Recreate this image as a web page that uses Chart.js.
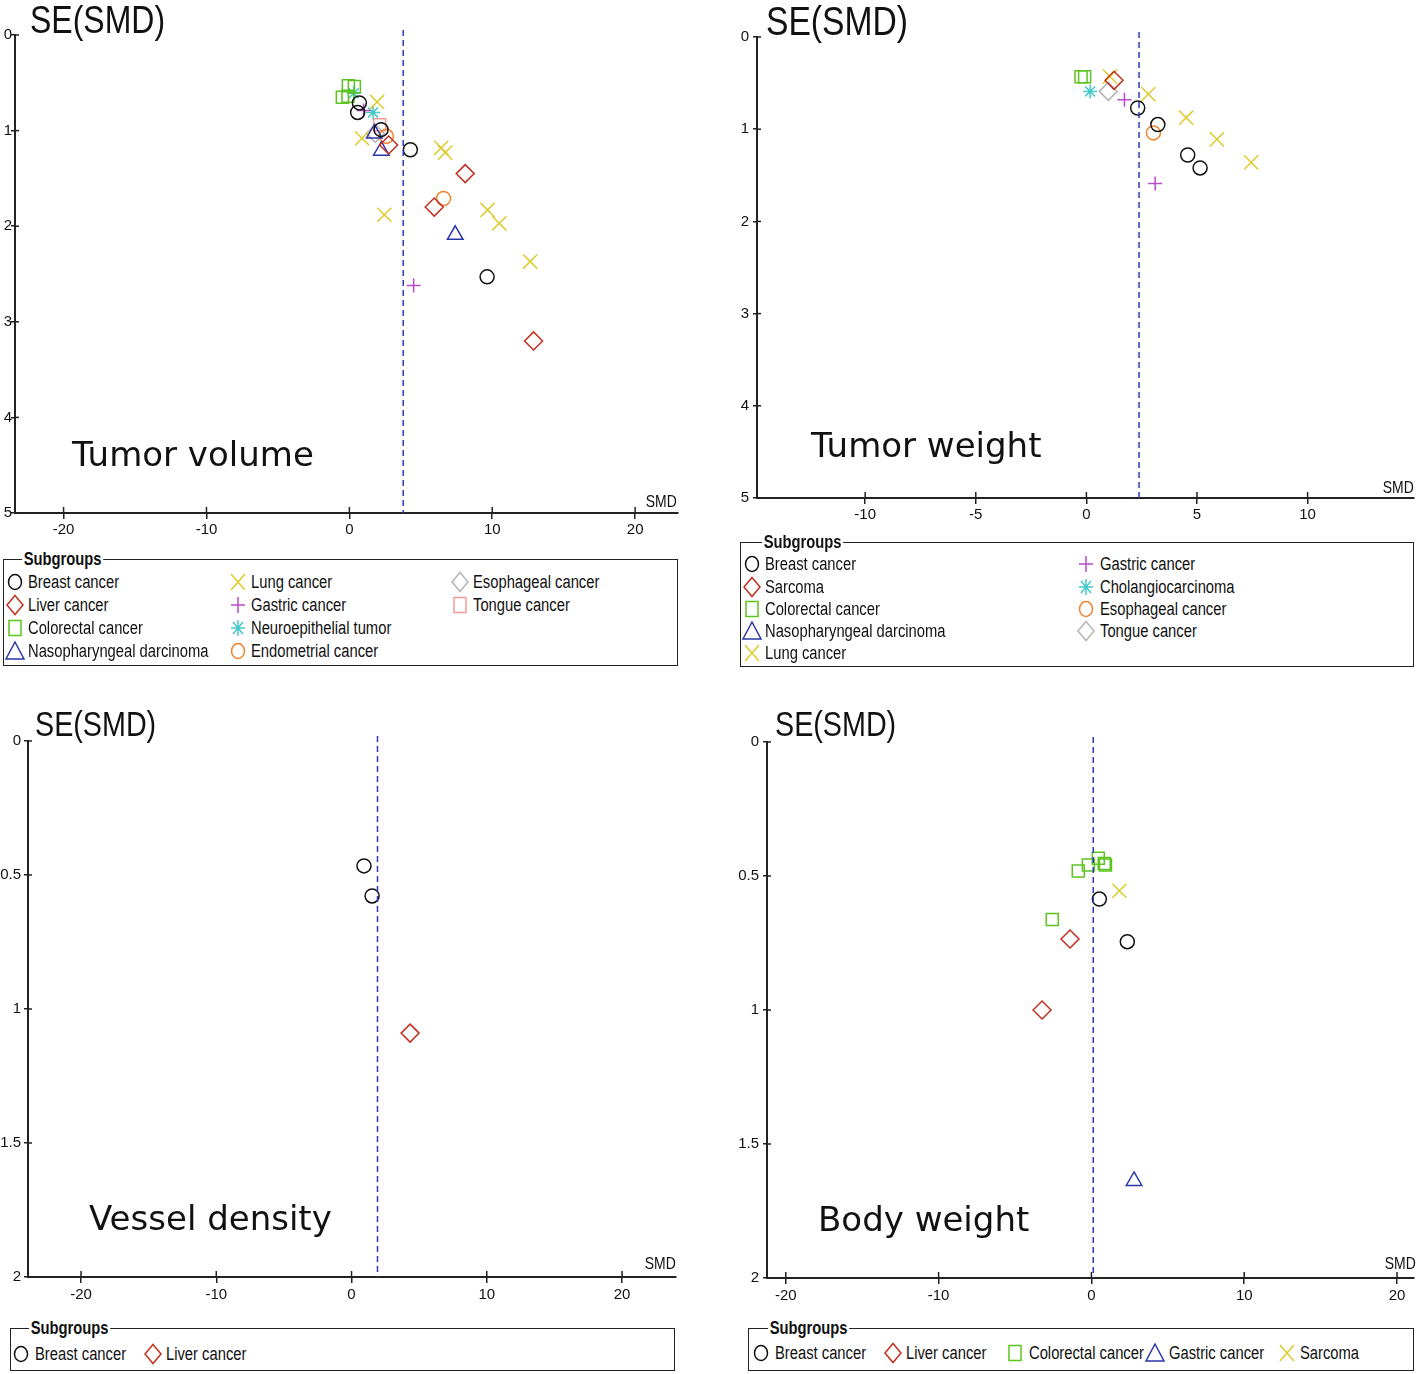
<!DOCTYPE html>
<html><head><meta charset="utf-8">
<script src="https://cdn.jsdelivr.net/npm/chart.js@4.4.1/dist/chart.umd.min.js"></script>
<style>
html,body{margin:0;padding:0;background:#fff;}
body{width:1418px;height:1374px;position:relative;overflow:hidden;color:#111;}
canvas{position:absolute;}
.t{position:absolute;line-height:1;white-space:nowrap;}
.lab{position:absolute;line-height:1;white-space:nowrap;font-family:'DejaVu Sans',Verdana,sans-serif;font-size:34px;color:#111;}
.leg{position:absolute;border:1.5px solid #222;box-sizing:border-box;}
</style>
</head><body>
<script>
// ---------------- DATA ----------------
// Panel A: Tumor volume (x = SMD, y = SE(SMD))
const tvBreastX=[0.70,0.58,2.22,4.27,9.64],            tvBreastY=[0.71,0.81,0.99,1.20,2.53];
const tvLiverX=[2.75,8.11,5.94,12.89],                 tvLiverY=[1.15,1.45,1.80,3.20];
const tvColorectalX=[-0.07,0.35,-0.49,-0.10],          tvColorectalY=[0.53,0.54,0.65,0.64];
const tvNasoX=[2.24,1.75,7.41],                        tvNasoY=[1.21,1.03,2.09];
const tvLungX=[1.94,0.89,6.43,6.71,2.45,9.67,10.49,12.66], tvLungY=[0.70,1.08,1.18,1.23,1.88,1.83,1.97,2.37];
const tvGastricX=[1.00,4.50],                          tvGastricY=[0.79,2.62];
const tvNeuroX=[0.30,1.66],                            tvNeuroY=[0.61,0.81];
const tvEndoX=[2.59,6.59],                             tvEndoY=[1.06,1.71];
const tvEsoX=[1.82],                                   tvEsoY=[1.03];
const tvTongueX=[2.12],                                tvTongueY=[0.94];
const tvPooled=3.77;

// Panel B: Tumor weight
const twBreastX=[2.32,3.23,4.58,5.14],        twBreastY=[0.77,0.95,1.28,1.42];
const twSarcomaX=[1.25],                      twSarcomaY=[0.47];
const twColorectalX=[-0.24,-0.08],            twColorectalY=[0.43,0.43];
const twNasoX=[],                             twNasoY=[];
const twLungX=[1.07,2.80,4.51,5.90,7.45],     twLungY=[0.43,0.62,0.875,1.11,1.36];
const twGastricX=[1.72,3.11],                 twGastricY=[0.68,1.59];
const twCholX=[0.17],                         twCholY=[0.59];
const twEsoX=[3.03],                          twEsoY=[1.04];
const twTongueX=[0.99],                       twTongueY=[0.59];
const twPooled=2.38;

// Panel C: Vessel density
const vdBreastX=[0.92,1.52], vdBreastY=[0.466,0.578];
const vdLiverX=[4.33],       vdLiverY=[1.09];
const vdPooled=1.92;

// Panel D: Body weight
const bwBreastX=[0.52,2.35],                        bwBreastY=[0.586,0.745];
const bwLiverX=[-1.40,-3.23],                       bwLiverY=[0.735,1.00];
const bwColorectalX=[-0.86,-0.20,0.45,0.84,0.92,-2.56], bwColorectalY=[0.481,0.459,0.434,0.453,0.459,0.662];
const bwGastricX=[2.79],                            bwGastricY=[1.638];
const bwSarcomaX=[1.83],                            bwSarcomaY=[0.555];
const bwPooled=0.12;

// tick values
const seTicksA=[0,1,2,3,4,5], seTicksC=[0,0.5,1,1.5,2];
const smdTicksWide=[-20,-10,0,10,20], smdTicksB=[-10,-5,0,5,10];

// ---------------- STYLE ----------------
const C={black:'#111111',red:'#c1301f',green:'#5cc41e',blue:'#2b36a6',yellow:'#dccb2c',magenta:'#b84bc9',cyan:'#45c9c9',orange:'#f2832d',gray:'#b5b5b5',pink:'#f39a9a'};
const M={circle:{ps:'circle',r:7},diamond:{ps:'rectRot',r:9},square:{ps:'rect',r:8.5},triangle:{ps:'triangle',r:9},x:{ps:'crossRot',r:10},plus:{ps:'cross',r:7},star:{ps:'star',r:7}};

function hasFont(name){const c=document.createElement('canvas').getContext('2d');c.font='40px monospace';const a=c.measureText('Breast cancer SMD 0.5').width;c.font='40px "'+name+'", monospace';return Math.abs(c.measureText('Breast cancer SMD 0.5').width-a)>0.5;}
const NARROW=hasFont('Liberation Sans Narrow');
const FF=NARROW?'"Liberation Sans Narrow","Liberation Sans",Arial,sans-serif':'"Liberation Sans",Arial,sans-serif';
const SX=NARROW?1:0.82;

function addText(txt,left,top,size,opts={}){
  const d=document.createElement('div');d.className='t';d.textContent=txt;
  d.style.fontFamily=FF;d.style.fontSize=size+'px';d.style.top=top+'px';
  if(opts.bold)d.style.fontWeight='bold';
  if(opts.right!==undefined){d.style.right=(1418-opts.right)+'px';d.style.transformOrigin='right center';}
  else {d.style.left=left+'px';d.style.transformOrigin='left center';}
  if(SX!==1)d.style.transform='scaleX('+SX+')';
  if(opts.bg)d.style.background='#fff';
  if(opts.pad)d.style.padding=opts.pad;
  document.body.appendChild(d);return d;
}
function addLabel(txt,left,top){const d=document.createElement('div');d.className='lab';d.textContent=txt;d.style.left=left+'px';d.style.top=top+'px';document.body.appendChild(d);}

// ---------------- CHART DECOR PLUGIN ----------------
const decor={id:'decor',afterDatasetsDraw(chart,args,o){
  const ctx=chart.ctx,a=chart.chartArea,xs=chart.scales.x,ys=chart.scales.y;
  ctx.save();
  // pooled estimate dashed line
  const px=xs.getPixelForValue(o.ref);
  ctx.strokeStyle='#2c3bb8';ctx.lineWidth=1.5;ctx.setLineDash([6,4]);
  ctx.beginPath();ctx.moveTo(px,a.top-5);ctx.lineTo(px,a.bottom);ctx.stroke();
  ctx.setLineDash([]);
  // inner halves of tick marks (ticks cross the axes)
  ctx.strokeStyle='#222';ctx.lineWidth=1.5;
  xs.ticks.forEach(t=>{const x=xs.getPixelForValue(t.value);ctx.beginPath();ctx.moveTo(x,a.bottom);ctx.lineTo(x,a.bottom-6);ctx.stroke();});
  ys.ticks.forEach(t=>{const y=ys.getPixelForValue(t.value);ctx.beginPath();ctx.moveTo(a.left,y);ctx.lineTo(a.left+4,y);ctx.stroke();});
  ctx.restore();
}};

function makePanel(p){
  const cv=document.createElement('canvas');
  cv.width=p.w;cv.height=p.h;cv.style.left=p.left+'px';cv.style.top=p.top+'px';cv.style.width=p.w+'px';cv.style.height=p.h+'px';
  document.body.appendChild(cv);
  const ds=p.series.filter(s=>s.x.length).map(s=>({
    label:s.name,data:s.x.map((v,i)=>({x:v,y:s.y[i]})),
    pointStyle:M[s.m].ps,pointRadius:M[s.m].r,pointHoverRadius:M[s.m].r,
    borderColor:C[s.c],pointBorderColor:C[s.c],backgroundColor:'rgba(0,0,0,0)',pointBackgroundColor:'rgba(0,0,0,0)',
    borderWidth:1.5,pointBorderWidth:1.5,showLine:false
  }));
  new Chart(cv,{type:'scatter',data:{datasets:ds},plugins:[decor],options:{
    responsive:false,animation:false,events:[],devicePixelRatio:1,
    layout:{padding:{top:p.padTop,right:p.padRight,left:0,bottom:0}},
    plugins:{legend:{display:false},tooltip:{enabled:false},decor:{ref:p.ref}},
    scales:{
      x:{type:'linear',position:'bottom',min:p.xmin,max:p.xmax,
        afterFit:s=>{s.height=p.xh;},
        afterBuildTicks:s=>{s.ticks=p.xticks.map(v=>({value:v}));},
        ticks:{font:{family:FF,size:Math.round(17*(NARROW?1:0.88))},color:'#111',padding:p.xpad,maxRotation:0,autoSkip:false,callback:v=>String(v)},
        grid:{display:true,drawOnChartArea:false,drawTicks:true,tickLength:6,color:'#222',lineWidth:1.5},
        border:{display:true,color:'#222',width:2}},
      y:{type:'linear',position:'left',reverse:true,min:0,max:p.ymax,
        afterFit:s=>{s.width=p.yw;},
        afterBuildTicks:s=>{s.ticks=p.yticks.map(v=>({value:v}));},
        ticks:{font:{family:FF,size:Math.round(17*(NARROW?1:0.88))},color:'#111',padding:p.ypad,autoSkip:false,callback:v=>String(v)},
        grid:{display:true,drawOnChartArea:false,drawTicks:true,tickLength:4,color:'#222',lineWidth:1.5},
        border:{display:true,color:'#222',width:2}}
    }}});
}

// ---------------- LEGEND ----------------
function shapeSVG(m,color){
  let s='';
  switch(m){
    case 'circle':s='<ellipse cx="0" cy="0" rx="6.5" ry="7.5"/>';break;
    case 'diamond':s='<path d="M0,-9.5 L8,0 L0,9.5 L-8,0Z"/>';break;
    case 'square':s='<rect x="-6" y="-7.5" width="12" height="15"/>';break;
    case 'triangle':s='<path d="M0,-9 L9,8 L-9,8Z"/>';break;
    case 'x':s='<path d="M-7,-8 L7,8 M7,-8 L-7,8"/>';break;
    case 'plus':s='<path d="M0,-8 V8 M-7,0 H7"/>';break;
    case 'star':s='<path d="M0,-8 V8 M-7,0 H7 M-5,-6 L5,6 M5,-6 L-5,6"/>';break;
  }
  return '<svg width="24" height="24" viewBox="-12 -12 24 24" style="position:absolute;left:-12px;top:-12px;overflow:visible"><g fill="none" stroke="'+color+'" stroke-width="1.5">'+s+'</g></svg>';
}
function makeLegend(L,series){
  const b=document.createElement('div');b.className='leg';
  b.style.left=L.box[0]+'px';b.style.top=L.box[1]+'px';b.style.width=L.box[2]+'px';b.style.height=L.box[3]+'px';
  document.body.appendChild(b);
  addText('Subgroups',L.titleX,L.box[1]-9,18,{bold:true,bg:true,pad:'0 2px'});
  series.forEach((s,i)=>{
    const pos=L.pos[i];
    const d=document.createElement('div');d.style.position='absolute';d.style.left=pos[0]+'px';d.style.top=pos[1]+'px';
    d.innerHTML=shapeSVG(s.m,C[s.c]);document.body.appendChild(d);
    addText(s.name,pos[2],pos[1]-9,18);
  });
}

// ---------------- PANELS ----------------
const serA=[
 {name:'Breast cancer',x:tvBreastX,y:tvBreastY,m:'circle',c:'black'},
 {name:'Liver cancer',x:tvLiverX,y:tvLiverY,m:'diamond',c:'red'},
 {name:'Colorectal cancer',x:tvColorectalX,y:tvColorectalY,m:'square',c:'green'},
 {name:'Nasopharyngeal darcinoma',x:tvNasoX,y:tvNasoY,m:'triangle',c:'blue'},
 {name:'Lung cancer',x:tvLungX,y:tvLungY,m:'x',c:'yellow'},
 {name:'Gastric cancer',x:tvGastricX,y:tvGastricY,m:'plus',c:'magenta'},
 {name:'Neuroepithelial tumor',x:tvNeuroX,y:tvNeuroY,m:'star',c:'cyan'},
 {name:'Endometrial cancer',x:tvEndoX,y:tvEndoY,m:'circle',c:'orange'},
 {name:'Esophageal cancer',x:tvEsoX,y:tvEsoY,m:'diamond',c:'gray'},
 {name:'Tongue cancer',x:tvTongueX,y:tvTongueY,m:'square',c:'pink'}];
const serB=[
 {name:'Breast cancer',x:twBreastX,y:twBreastY,m:'circle',c:'black'},
 {name:'Sarcoma',x:twSarcomaX,y:twSarcomaY,m:'diamond',c:'red'},
 {name:'Colorectal cancer',x:twColorectalX,y:twColorectalY,m:'square',c:'green'},
 {name:'Nasopharyngeal darcinoma',x:twNasoX,y:twNasoY,m:'triangle',c:'blue'},
 {name:'Lung cancer',x:twLungX,y:twLungY,m:'x',c:'yellow'},
 {name:'Gastric cancer',x:twGastricX,y:twGastricY,m:'plus',c:'magenta'},
 {name:'Cholangiocarcinoma',x:twCholX,y:twCholY,m:'star',c:'cyan'},
 {name:'Esophageal cancer',x:twEsoX,y:twEsoY,m:'circle',c:'orange'},
 {name:'Tongue cancer',x:twTongueX,y:twTongueY,m:'diamond',c:'gray'}];
const serC=[
 {name:'Breast cancer',x:vdBreastX,y:vdBreastY,m:'circle',c:'black'},
 {name:'Liver cancer',x:vdLiverX,y:vdLiverY,m:'diamond',c:'red'}];
const serD=[
 {name:'Breast cancer',x:bwBreastX,y:bwBreastY,m:'circle',c:'black'},
 {name:'Liver cancer',x:bwLiverX,y:bwLiverY,m:'diamond',c:'red'},
 {name:'Colorectal cancer',x:bwColorectalX,y:bwColorectalY,m:'square',c:'green'},
 {name:'Gastric cancer',x:bwGastricX,y:bwGastricY,m:'triangle',c:'blue'},
 {name:'Sarcoma',x:bwSarcomaX,y:bwSarcomaY,m:'x',c:'yellow'}];

makePanel({left:0,top:0,w:700,h:548,padTop:35,padRight:22,yw:15,xh:35,xmin:-23.4,xmax:23.0,xticks:smdTicksWide,ymax:5,yticks:seTicksA,ref:tvPooled,series:serA,xpad:2,ypad:-1});
makePanel({left:720,top:0,w:720,h:530,padTop:37,padRight:26,yw:37,xh:32,xmin:-14.89,xmax:14.81,xticks:smdTicksB,ymax:5,yticks:seTicksA,ref:twPooled,series:serB,xpad:2,ypad:4});
makePanel({left:0,top:700,w:700,h:612,padTop:41,padRight:24,yw:28,xh:35,xmin:-23.92,xmax:23.99,xticks:smdTicksWide,ymax:2,yticks:seTicksC,ref:vdPooled,series:serC,xpad:3,ypad:3});
makePanel({left:720,top:700,w:720,h:612,padTop:42,padRight:26,yw:47,xh:34,xmin:-21.23,xmax:21.11,xticks:smdTicksWide,ymax:2,yticks:seTicksC,ref:bwPooled,series:serD,xpad:3,ypad:4});

// axis titles
addText('SE(SMD)',30,0,39);
addText('SE(SMD)',766,1,41);
addText('SE(SMD)',35,706,35);
addText('SE(SMD)',775,706,35);
addText('SMD',0,493,17,{right:677});
addText('SMD',0,479,17,{right:1414});
addText('SMD',0,1255,17,{right:676});
addText('SMD',0,1255,17,{right:1416});
addLabel('Tumor volume',72,437);
addLabel('Tumor weight',811,428);
addLabel('Vessel density',89,1201);
addLabel('Body weight',818,1202);

// legends
makeLegend({box:[3,559,675,107],titleX:22,pos:[[15,582,28],[15,605,28],[15,628,28],[15,651,28],[238,582,251],[238,605,251],[238,628,251],[238,651,251],[460,582,473],[460,605,473]]},serA);
makeLegend({box:[740,542,674,125],titleX:762,pos:[[752,564,765],[752,587,765],[752,609,765],[752,631,765],[752,653,765],[1086,564,1100],[1086,587,1100],[1086,609,1100],[1086,631,1100]]},serB);
makeLegend({box:[10,1328,665,43],titleX:29,pos:[[21,1354,35],[153,1354,166]]},serC);
makeLegend({box:[748,1328,666,43],titleX:768,pos:[[761,1353,775],[893,1353,906],[1015,1353,1029],[1155,1353,1169],[1287,1353,1300]]},serD);
</script>
</body></html>
